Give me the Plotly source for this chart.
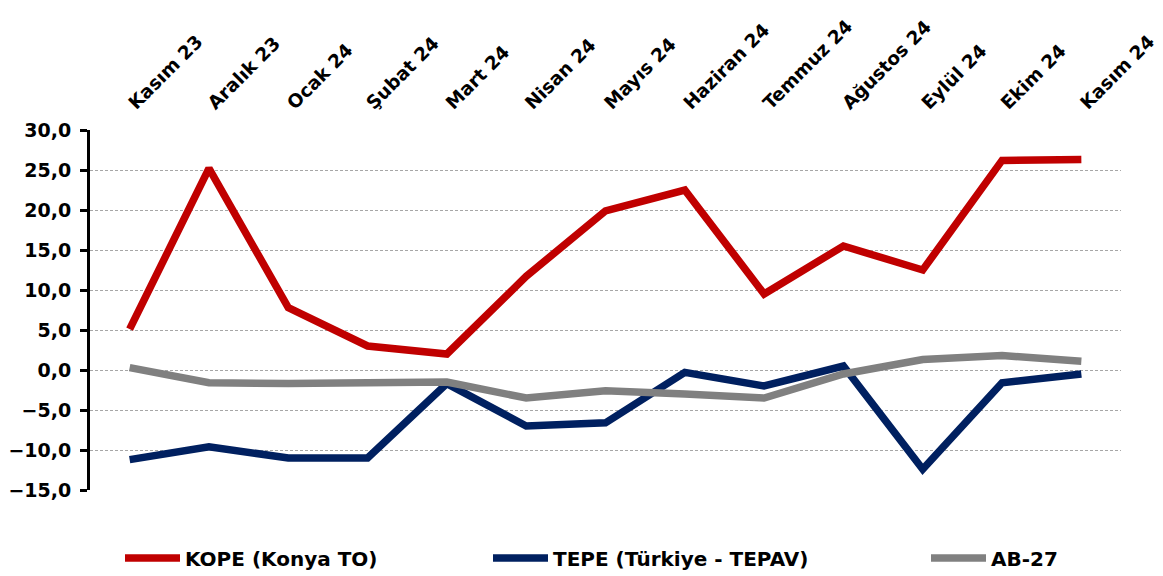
import plotly.graph_objects as go

months = ["Kasım 23", "Aralık 23", "Ocak 24", "Şubat 24", "Mart 24", "Nisan 24", "Mayıs 24",
          "Haziran 24", "Temmuz 24", "Ağustos 24", "Eylül 24", "Ekim 24", "Kasım 24"]
kope = [5.1, 25.2, 7.8, 3.0, 2.0, 11.7, 19.9, 22.5, 9.5, 15.5, 12.5, 26.2, 26.3]
tepe = [-11.2, -9.6, -11.0, -11.0, -1.7, -7.0, -6.6, -0.3, -2.0, 0.5, -12.4, -1.6, -0.5]
ab27 = [0.3, -1.6, -1.7, -1.6, -1.5, -3.5, -2.6, -3.0, -3.5, -0.5, 1.3, 1.8, 1.1]
names = ["KOPE (Konya TO)", "TEPE (Türkiye - TEPAV)", "AB-27"]
colors = ["#C00000", "#002060", "#808080"]
y_ticks = [-15, -10, -5, 0, 5, 10, 15, 20, 25, 30]

FONT = "DejaVu Sans"
x_idx = list(range(len(months)))

fig = go.Figure()
series = [kope, tepe, ab27]
legends = ["legend", "legend2", "legend3"]
for vals, nm, col, lg in zip(series, names, colors, legends):
    fig.add_trace(go.Scatter(x=x_idx, y=vals, name=nm, mode="lines",
                             line=dict(color=col, width=7.5), legend=lg,
                             showlegend=True, xaxis="x", yaxis="y"))

# page has an 8px body margin, so the figure is drawn 8px smaller/offset
W, H = 1155, 568
ml, mr, mt, mb = 82, 42, 122, 86
pw = W - ml - mr
ph = H - mt - mb

def px_to_paper_x(px):
    return (px - ml) / pw

def py_to_paper_y(py):
    return (H - mb - py) / ph

leg_common = dict(orientation="h", yanchor="middle", xanchor="left",
                  font=dict(family=FONT, size=20, color="black", weight="bold"),
                  bgcolor="rgba(0,0,0,0)", itemwidth=55)
leg_y = py_to_paper_y(550)

zero_pos = (0 - (-15)) / (30 - (-15))

fig.update_layout(
    width=W, height=H,
    margin=dict(l=ml, r=mr, t=mt, b=mb, autoexpand=False),
    paper_bgcolor="white", plot_bgcolor="white",
    separators=",.",
    showlegend=True,
    xaxis=dict(range=[-0.5, len(months) - 0.5], side="top",
               tickmode="array", tickvals=x_idx, ticktext=months,
               tickangle=-45, showline=False, ticks="", showgrid=False,
               zeroline=False, ticklabelstandoff=12, automargin=False,
               ticklabeloverflow="allow",
               tickfont=dict(family=FONT, size=18.5, color="black", weight="bold")),
    xaxis2=dict(range=[-0.5, len(months) - 0.5], overlaying="x", anchor="free",
                position=zero_pos, showline=True, linecolor="black", linewidth=2.5,
                ticks="outside", ticklen=7, tickwidth=2.5, tickcolor="black",
                tickmode="array", tickvals=[i - 0.5 for i in range(len(months) + 1)],
                showticklabels=False, showgrid=False, zeroline=False,
                layer="below traces", automargin=False),
    yaxis=dict(range=[-15, 30], tickmode="array", tickvals=y_ticks,
               tickformat=".1f", showline=True, linecolor="black", linewidth=3,
               ticks="outside", ticklen=7, tickwidth=2.5, tickcolor="black",
               showgrid=True, gridcolor="#a6a6a6", gridwidth=1, griddash="3px,2px",
               zeroline=False, ticklabelstandoff=5, automargin=False,
               tickfont=dict(family=FONT, size=19, color="black", weight="bold")),
    legend=dict(x=px_to_paper_x(112), y=leg_y, **leg_common),
    legend2=dict(x=px_to_paper_x(480), y=leg_y, **leg_common),
    legend3=dict(x=px_to_paper_x(918), y=leg_y, **leg_common),
)

fig.write_html("out.html")
